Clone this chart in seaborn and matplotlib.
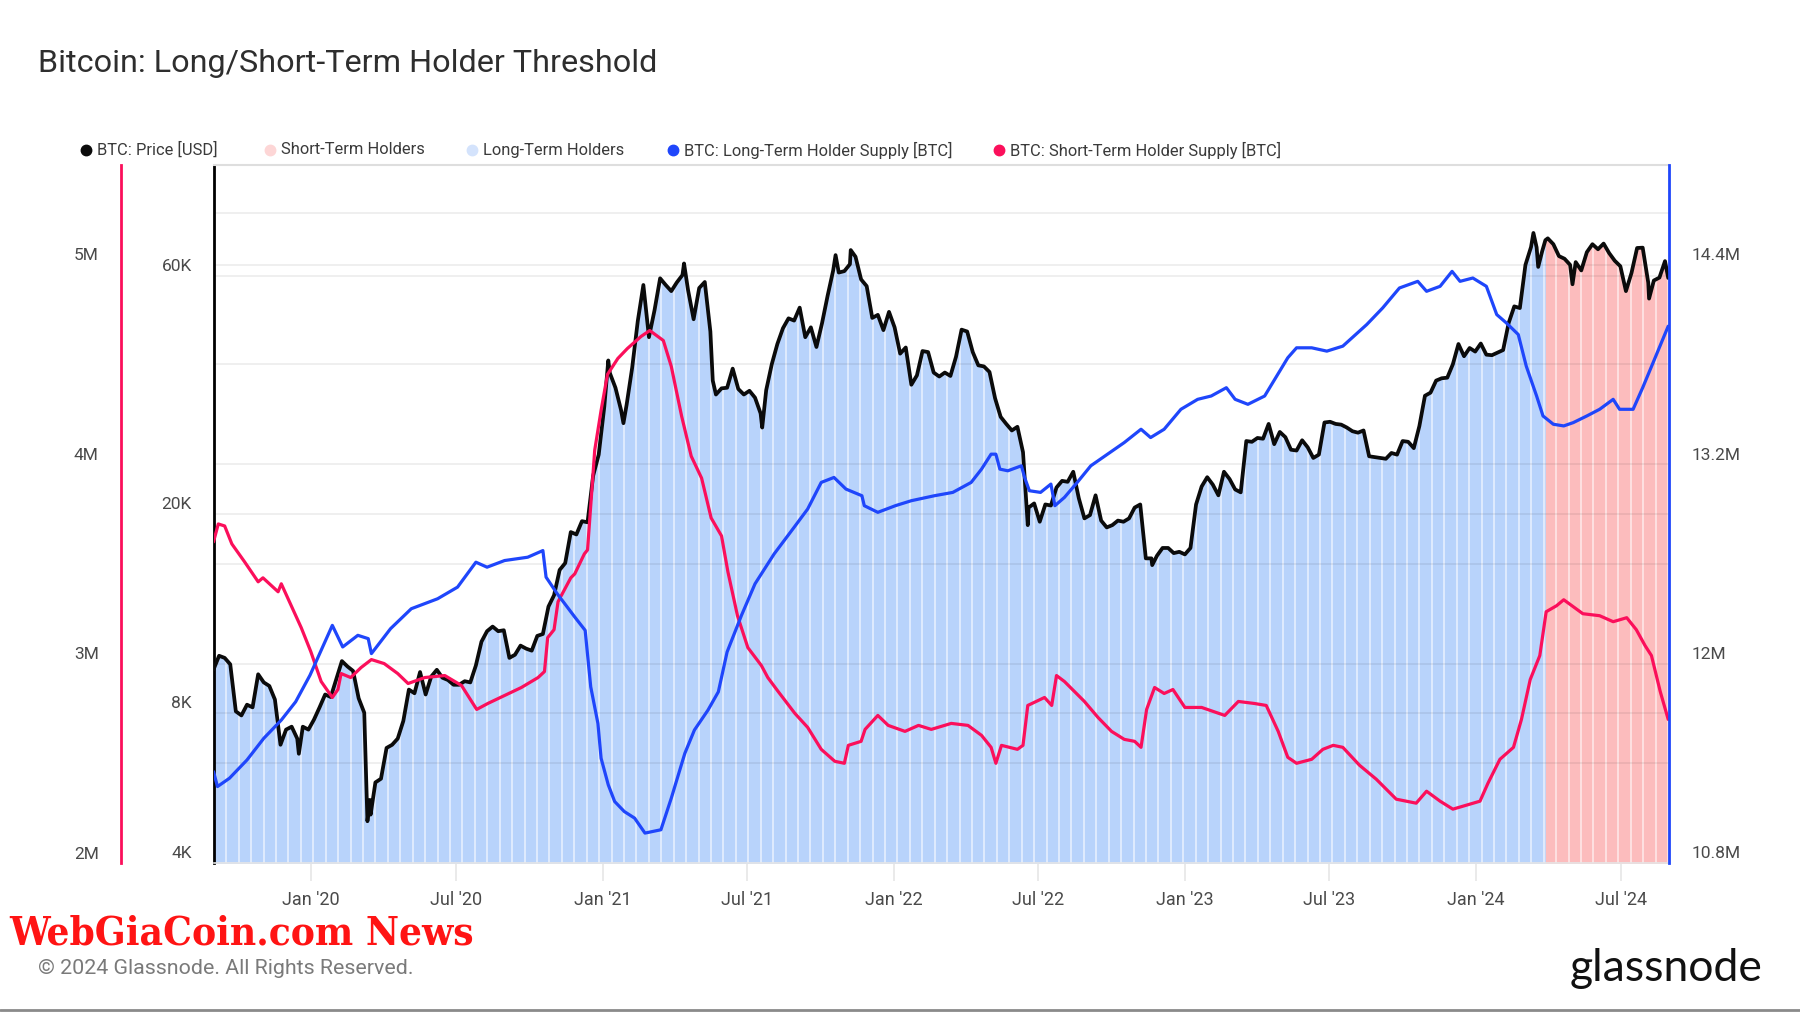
import numpy as np
import pandas as pd
import matplotlib
matplotlib.use("Agg")
import matplotlib.pyplot as plt
import matplotlib.dates as mdates
import matplotlib.transforms as mtransforms
from matplotlib.lines import Line2D
import seaborn as sns

# ------------------------------------------------------------------ data
# BTC price [USD], weekly (Sundays) per year
PRICE_2019 = [9760, 10400, 10300, 10000, 8050, 7900, 8300, 8200, 9550, 9200, 9050, 8500,
              6900, 7400, 7500, 7100, 7500, 7400]
PRICE_2020 = [7750, 8200, 8700, 8600, 9350, 10150, 9900, 9700, 8550, 8000, 5350, 5800, 5900,
              6800, 6900, 7100, 7700, 8900, 8750, 9650, 8700, 9450, 9750, 9400, 9300, 9100,
              9100, 9250, 9200, 9950, 11100, 11650, 11900, 11650, 11700, 10300, 10450, 10900,
              10750, 10650, 11400, 11500, 13050, 13750, 15450, 15950, 18400, 18200, 19350,
              19250, 23850, 26300]
PRICE_2021 = [32800, 38300, 35800, 32300, 33100, 39300, 48700, 57500, 45200, 51200, 59300,
              57500, 55900, 58200, 60200, 56200, 49100, 56700, 58300, 46400, 34700, 35700,
              35800, 39100, 35600, 34700, 35300, 34200, 31800, 35400, 39900, 43800, 47100,
              49300, 48800, 51800, 45200, 47300, 43200, 48200, 54700, 61500, 60900, 61300,
              63300, 65500, 59000, 57200, 49400, 50100, 46700, 50800]
PRICE_2022 = [47300, 41900, 43100, 36300, 37900, 42400, 42200, 38400, 37700, 38400, 37800,
              41300, 46800, 46400, 42200, 39700, 39500, 38500, 34100, 31300, 30300, 29400,
              29900, 26600, 20600, 21000, 19300, 20900, 20800, 22600, 23300, 23200, 24300,
              21500, 19600, 19900, 21800, 19400, 18800, 19000, 19400, 19300, 19600, 20600,
              20900, 16300, 16300, 16500, 17100, 17100, 16700, 16800]
PRICE_2023 = [16600, 17100, 20900, 22700, 23700, 22900, 21800, 24300, 23500, 22400, 22100,
              28000, 27900, 28400, 28300, 30300, 27600, 29200, 28500, 26900, 26800, 28100,
              27200, 25900, 26300, 30500, 30600, 30300, 30200, 29800, 29300, 29100, 29400,
              26100, 26000, 25900, 25800, 26500, 26300, 28000, 27900, 27100, 30000, 34500,
              35000, 37000, 37400, 37500, 39900, 43800, 41400, 43000, 42300]
PRICE_2024 = [43900, 41700, 41600, 42100, 42600, 48300, 52100, 51700, 63100, 68500, 68400,
              67200, 71300, 69400, 65700, 64900, 63100, 63900, 61500, 66900, 69400, 67800,
              69600, 66600, 64300, 62700, 55900, 60800, 68200, 68300, 58100, 58700, 59500,
              64200]
# daily extremes and end point
PRICE_EXTRA_DATES = ["2019-12-17", "2020-03-12", "2020-03-16", "2021-01-08", "2021-01-27",
                     "2021-04-13", "2021-05-19", "2021-07-20", "2021-10-20", "2021-11-08",
                     "2022-06-18", "2022-11-21", "2024-03-13", "2024-03-19", "2024-03-28",
                     "2024-05-01", "2024-08-05", "2024-08-29"]
PRICE_EXTRA = [6620, 4850, 5000, 40600, 30400, 63500, 37000, 29800, 66000, 67550,
               19000, 15800, 73100, 62500, 70700, 57700, 54000, 59400]

# Long-term holder supply [M BTC]
LTH_DATES = ["2019-09-01", "2019-09-06", "2019-09-21", "2019-10-13", "2019-11-03", "2019-11-25",
             "2019-12-13", "2019-12-31", "2020-01-14", "2020-01-28", "2020-02-10", "2020-02-29",
             "2020-03-13", "2020-03-17", "2020-04-10", "2020-05-06", "2020-06-08", "2020-07-03",
             "2020-07-26", "2020-08-09", "2020-08-31", "2020-09-29", "2020-10-18", "2020-10-22",
             "2020-11-05", "2020-11-27", "2020-12-10", "2020-12-17", "2020-12-26", "2020-12-30",
             "2021-01-08", "2021-01-16", "2021-01-28", "2021-02-10", "2021-02-23", "2021-03-15",
             "2021-03-28", "2021-04-14", "2021-04-26", "2021-05-13", "2021-05-26", "2021-06-06",
             "2021-06-24", "2021-07-11", "2021-08-04", "2021-08-29", "2021-09-15", "2021-10-02",
             "2021-10-18", "2021-11-02", "2021-11-22", "2021-11-25", "2021-12-12", "2022-01-03",
             "2022-01-23", "2022-02-21", "2022-03-16", "2022-04-08", "2022-04-21", "2022-05-03",
             "2022-05-09", "2022-05-14", "2022-05-24", "2022-06-10", "2022-06-14", "2022-06-20",
             "2022-07-04", "2022-07-17", "2022-07-22", "2022-08-03", "2022-08-19", "2022-09-05",
             "2022-09-26", "2022-10-17", "2022-11-07", "2022-11-19", "2022-12-06", "2022-12-27",
             "2023-01-17", "2023-02-03", "2023-02-22", "2023-03-05", "2023-03-21", "2023-04-11",
             "2023-05-10", "2023-05-21", "2023-06-09", "2023-06-28", "2023-07-18", "2023-08-17",
             "2023-09-06", "2023-09-27", "2023-10-20", "2023-10-31", "2023-11-17", "2023-12-02",
             "2023-12-12", "2023-12-28", "2024-01-14", "2024-01-27", "2024-02-08", "2024-02-23",
             "2024-03-04", "2024-03-17", "2024-03-25", "2024-04-07", "2024-04-20", "2024-05-02",
             "2024-05-19", "2024-06-04", "2024-06-21", "2024-06-29", "2024-07-16", "2024-07-28",
             "2024-08-10", "2024-08-29"]
LTH_SUPPLY_M = [11.35, 11.26, 11.31, 11.42, 11.55, 11.66, 11.77, 11.93, 12.08, 12.23, 12.10, 12.17,
                12.15, 12.06, 12.21, 12.33, 12.39, 12.46, 12.61, 12.58, 12.62, 12.64, 12.68, 12.52,
                12.42, 12.28, 12.20, 11.86, 11.64, 11.43, 11.27, 11.17, 11.11, 11.07, 10.98, 11.00,
                11.19, 11.46, 11.60, 11.72, 11.83, 12.07, 12.29, 12.48, 12.66, 12.82, 12.93, 13.09,
                13.12, 13.05, 13.01, 12.95, 12.91, 12.95, 12.98, 13.01, 13.03, 13.09, 13.17, 13.26,
                13.26, 13.17, 13.16, 13.19, 13.12, 13.04, 13.03, 13.08, 12.95, 13.00, 13.09, 13.19,
                13.26, 13.33, 13.41, 13.36, 13.41, 13.53, 13.59, 13.61, 13.66, 13.59, 13.56, 13.61,
                13.84, 13.90, 13.90, 13.88, 13.91, 14.04, 14.14, 14.26, 14.30, 14.24, 14.27, 14.36,
                14.30, 14.32, 14.27, 14.10, 14.05, 13.98, 13.79, 13.61, 13.49, 13.44, 13.43, 13.45,
                13.49, 13.53, 13.59, 13.53, 13.53, 13.66, 13.81, 14.03]

# Short-term holder supply [M BTC]
STH_DATES = ["2019-09-01", "2019-09-07", "2019-09-15", "2019-09-24", "2019-10-10", "2019-10-27",
             "2019-11-02", "2019-11-21", "2019-11-25", "2019-12-03", "2019-12-20", "2020-01-01",
             "2020-01-14", "2020-01-28", "2020-02-04", "2020-02-08", "2020-02-20", "2020-03-04",
             "2020-03-17", "2020-04-02", "2020-04-19", "2020-05-02", "2020-05-23", "2020-06-17",
             "2020-07-08", "2020-07-27", "2020-08-10", "2020-08-31", "2020-09-21", "2020-10-12",
             "2020-10-20", "2020-10-24", "2020-11-01", "2020-11-06", "2020-11-22", "2020-11-27",
             "2020-12-09", "2020-12-13", "2020-12-22", "2020-12-30", "2021-01-07", "2021-01-20",
             "2021-02-01", "2021-02-18", "2021-03-01", "2021-03-18", "2021-03-28", "2021-04-10",
             "2021-04-22", "2021-05-05", "2021-05-17", "2021-05-30", "2021-06-07", "2021-06-19",
             "2021-07-02", "2021-07-19", "2021-07-27", "2021-08-09", "2021-08-30", "2021-09-15",
             "2021-10-02", "2021-10-19", "2021-10-31", "2021-11-05", "2021-11-21", "2021-11-26",
             "2021-12-12", "2021-12-25", "2022-01-15", "2022-02-01", "2022-02-17", "2022-03-14",
             "2022-04-04", "2022-04-21", "2022-05-03", "2022-05-09", "2022-05-16", "2022-06-05",
             "2022-06-12", "2022-06-18", "2022-07-09", "2022-07-18", "2022-07-24", "2022-08-03",
             "2022-08-28", "2022-09-14", "2022-10-01", "2022-10-17", "2022-10-30", "2022-11-07",
             "2022-11-14", "2022-11-24", "2022-12-06", "2022-12-17", "2023-01-01", "2023-01-22",
             "2023-02-20", "2023-03-09", "2023-03-29", "2023-04-13", "2023-04-28", "2023-05-10",
             "2023-05-21", "2023-06-09", "2023-06-23", "2023-07-06", "2023-07-18", "2023-08-08",
             "2023-08-29", "2023-09-23", "2023-10-18", "2023-10-31", "2023-11-17", "2023-12-03",
             "2023-12-20", "2024-01-06", "2024-01-16", "2024-01-31", "2024-02-17", "2024-02-27",
             "2024-03-09", "2024-03-21", "2024-03-29", "2024-04-11", "2024-04-20", "2024-05-14",
             "2024-06-04", "2024-06-21", "2024-07-08", "2024-07-20", "2024-07-31", "2024-08-08",
             "2024-08-19", "2024-08-29"]
STH_SUPPLY_M = [3.61, 3.70, 3.69, 3.60, 3.51, 3.41, 3.43, 3.36, 3.40, 3.33, 3.18, 3.06,
                2.91, 2.83, 2.87, 2.95, 2.93, 2.98, 3.02, 3.00, 2.95, 2.90, 2.93, 2.94,
                2.89, 2.77, 2.80, 2.84, 2.88, 2.93, 2.96, 3.13, 3.17, 3.31, 3.43, 3.45,
                3.55, 3.57, 4.07, 4.27, 4.45, 4.53, 4.58, 4.64, 4.67, 4.62, 4.49, 4.24,
                4.04, 3.93, 3.73, 3.64, 3.46, 3.24, 3.08, 2.99, 2.93, 2.86, 2.75, 2.68,
                2.57, 2.51, 2.50, 2.59, 2.61, 2.67, 2.74, 2.69, 2.66, 2.69, 2.67, 2.70,
                2.69, 2.64, 2.58, 2.50, 2.59, 2.57, 2.59, 2.79, 2.83, 2.79, 2.94, 2.91,
                2.81, 2.73, 2.66, 2.62, 2.61, 2.58, 2.77, 2.88, 2.85, 2.87, 2.78, 2.78,
                2.74, 2.81, 2.80, 2.79, 2.66, 2.53, 2.50, 2.52, 2.57, 2.59, 2.58, 2.49,
                2.42, 2.32, 2.30, 2.36, 2.31, 2.27, 2.29, 2.31, 2.40, 2.52, 2.58, 2.72,
                2.92, 3.04, 3.26, 3.29, 3.32, 3.25, 3.24, 3.21, 3.23, 3.17, 3.09, 3.04,
                2.86, 2.72]

REGIME_SWITCH = "2024-03-28"   # LTH-dominated (blue) -> STH-dominated (red)

X_TICKS = ["2020-01-01", "2020-07-01", "2021-01-01", "2021-07-01", "2022-01-01",
           "2022-07-01", "2023-01-01", "2023-07-01", "2024-01-01", "2024-07-01"]
X_TICK_LABELS = ["Jan '20", "Jul '20", "Jan '21", "Jul '21", "Jan '22",
                 "Jul '22", "Jan '23", "Jul '23", "Jan '24", "Jul '24"]
PRICE_TICKS = [4000, 8000, 20000, 60000]
PRICE_TICK_LABELS = ["4K", "8K", "20K", "60K"]
PRICE_GRID = [8000, 20000, 60000, 80000]
STH_TICKS = [2, 3, 4, 5]
STH_TICK_LABELS = ["2M", "3M", "4M", "5M"]
LTH_TICKS = [10.8, 12.0, 13.2, 14.4]
LTH_TICK_LABELS = ["10.8M", "12M", "13.2M", "14.4M"]
SUPPLY_GRID = [2.5, 3.0, 3.5, 4.0, 4.5, 5.0]

LEGEND_LABELS = ["BTC: Price [USD]", "Short-Term Holders", "Long-Term Holders",
                 "BTC: Long-Term Holder Supply [BTC]", "BTC: Short-Term Holder Supply [BTC]"]

# ------------------------------------------------------------------ series
def weekly(year, values, start=None):
    idx = pd.date_range(start or f"{year}-01-01", f"{year}-12-31", freq="W-SUN")[:len(values)]
    return pd.Series(values, index=idx, dtype=float)

price = pd.concat([
    weekly(2019, PRICE_2019, "2019-09-01"), weekly(2020, PRICE_2020), weekly(2021, PRICE_2021),
    weekly(2022, PRICE_2022), weekly(2023, PRICE_2023), weekly(2024, PRICE_2024),
    pd.Series(PRICE_EXTRA, index=pd.to_datetime(PRICE_EXTRA_DATES), dtype=float)])
price = price[~price.index.duplicated(keep="last")].sort_index()
lth = pd.Series(LTH_SUPPLY_M, index=pd.to_datetime(LTH_DATES))
sth = pd.Series(STH_SUPPLY_M, index=pd.to_datetime(STH_DATES))

# ------------------------------------------------------------------ style
PRICE_C = "#0b0b0b"
LTH_C = "#1f46fb"
STH_C = "#fb0f5b"
LTH_FILL = "#b8d3fb"
STH_FILL = "#fcbcbd"
TXT = "#4a4a4a"

sns.set_theme(style="white")
plt.rcParams["font.family"] = ["Roboto", "DejaVu Sans"]

W, H = 1800, 1013
fig = plt.figure(figsize=(W / 100, H / 100), dpi=100)
L, R, T, B = 213.5, 1669, 165, 863
ax = fig.add_axes([L / W, 1 - B / H, (R - L) / W, (B - T) / H])

XMIN, XMAX = pd.Timestamp("2019-09-01"), pd.Timestamp("2024-08-30")
YMIN, YMAX = 4000, 100000

# area under price coloured by regime
switch = pd.Timestamp(REGIME_SWITCH)
blue = price[price.index <= switch]
red = price[price.index >= switch]
ax.fill_between(blue.index, 1000, blue.values, color=LTH_FILL, lw=0, zorder=1)
ax.fill_between(red.index, 1000, red.values, color=STH_FILL, lw=0, zorder=1)

# thin white stripes inside the area
stripes = pd.date_range("2019-09-17", "2024-08-30", freq="374h")
sx = mdates.date2num(stripes)
heights = 10 ** np.interp(sx, mdates.date2num(price.index), np.log10(price.values))
ax.vlines(stripes, 1000, heights, colors="white", lw=1.4, alpha=0.55, zorder=1.2)

for v in PRICE_GRID:
    ax.axhline(v, color="black", alpha=0.075, lw=1.2, zorder=1.5)

sns.lineplot(x=price.index, y=price.values, ax=ax, color=PRICE_C, lw=2.7, zorder=3)
ax.set_yscale("log")
ax.set_ylim(YMIN, YMAX)
ax.set_xlim(XMIN, XMAX)

ax_sth = ax.twinx()
ax_lth = ax.twinx()
for v in SUPPLY_GRID:
    ax_sth.axhline(v, color="black", alpha=0.075, lw=1.2, zorder=1)
sns.lineplot(x=sth.index, y=sth.values, ax=ax_sth, color=STH_C, lw=2.3)
sns.lineplot(x=lth.index, y=lth.values, ax=ax_lth, color=LTH_C, lw=2.3)
ax_sth.set_ylim(2.0, 2.0 + 3.5)
ax_lth.set_ylim(10.8, 10.8 + 3.5 * 1.2)
for a in (ax_sth, ax_lth):
    a.set_xlim(XMIN, XMAX)

# spines
for a in (ax, ax_sth, ax_lth):
    for s in a.spines.values():
        s.set_visible(False)
    a.set_yticks([])
    a.yaxis.set_minor_locator(matplotlib.ticker.NullLocator())
    a.set_ylabel("")
    a.set_xlabel("")
ax.spines["left"].set_visible(True)
ax.spines["left"].set_color("black")
ax.spines["left"].set_linewidth(2)
ax.spines["top"].set_visible(True)
ax.spines["top"].set_color("#dedede")
ax.spines["top"].set_linewidth(1.5)
ax.spines["bottom"].set_visible(True)
ax.spines["bottom"].set_color("#e6e6e6")
ax.spines["bottom"].set_linewidth(1.2)
sth_pos = (120.7 - L) / (R - L)
ax_sth.spines["left"].set_visible(True)
ax_sth.spines["left"].set_position(("axes", sth_pos))
ax_sth.spines["left"].set_color(STH_C)
ax_sth.spines["left"].set_linewidth(2)
ax_lth.spines["right"].set_visible(True)
ax_lth.spines["right"].set_color(LTH_C)
ax_lth.spines["right"].set_linewidth(2)

# x ticks
ax.set_xticks(pd.to_datetime(X_TICKS))
ax.set_xticklabels(X_TICK_LABELS)
ax.tick_params(axis="x", length=13, width=1.2, color="#e6e6e6", pad=7,
               labelsize=13, labelcolor=TXT, bottom=True)
for a in (ax_sth, ax_lth):
    a.tick_params(axis="x", bottom=False, labelbottom=False)

# y tick labels sitting just above their grid lines
def ylabels(a, xpos, dx, ticks, labels, ha):
    tr = a.get_yaxis_transform() + mtransforms.ScaledTranslation(dx / 100, 9 / 100, fig.dpi_scale_trans)
    for v, lab in zip(ticks, labels):
        a.text(xpos, v, lab, transform=tr, ha=ha, va="center", fontsize=12.5, color=TXT, clip_on=False)

ylabels(ax, 0, -21.5, PRICE_TICKS, PRICE_TICK_LABELS, "right")
ylabels(ax_sth, sth_pos, -22, STH_TICKS, STH_TICK_LABELS, "right")
ylabels(ax_lth, 1, 23, LTH_TICKS, LTH_TICK_LABELS, "left")

# title
fig.text(38 / W, 1 - 64 / H, "Bitcoin: Long/Short-Term Holder Threshold", fontsize=23.3,
         fontweight="normal", color="#2e2e2e", ha="left", va="center")

# legend (manual)
leg_colors = [PRICE_C, "#fdd6d6", "#d4e3fc", LTH_C, STH_C]
dot_x = [86, 270, 472, 673, 999]
ly = 1 - 150 / H
for c, x, lab in zip(leg_colors, dot_x, LEGEND_LABELS):
    fig.add_artist(Line2D([x / W], [ly], marker="o", markersize=7.5, color=c, lw=0,
                          transform=fig.transFigure))
    fig.text((x + 11) / W, ly, lab, fontsize=11.9, color="#3a3a3a", ha="left", va="center")

# footer
fig.text(9 / W, 1 - 944 / H, "WebGiaCoin.com News", fontsize=29, fontweight="bold",
         family=["DejaVu Serif"], fontstretch="condensed", color="#ff1414",
         ha="left", va="baseline")
fig.text(38 / W, 1 - 968 / H, "\u00a9 2024 Glassnode. All Rights Reserved.", fontsize=15.4,
         color="#7a7a7a", ha="left", va="center")
fig.text(1570 / W, 1 - 968 / H, "glassnode", fontsize=32, color="#111111",
         family=["Lato", "DejaVu Sans"], ha="left", va="center")
fig.add_artist(Line2D([0, 1], [1 - 1010 / H] * 2, color="#8a8a8a", lw=2, transform=fig.transFigure))

fig.savefig("out.png", dpi=100, facecolor="white")
